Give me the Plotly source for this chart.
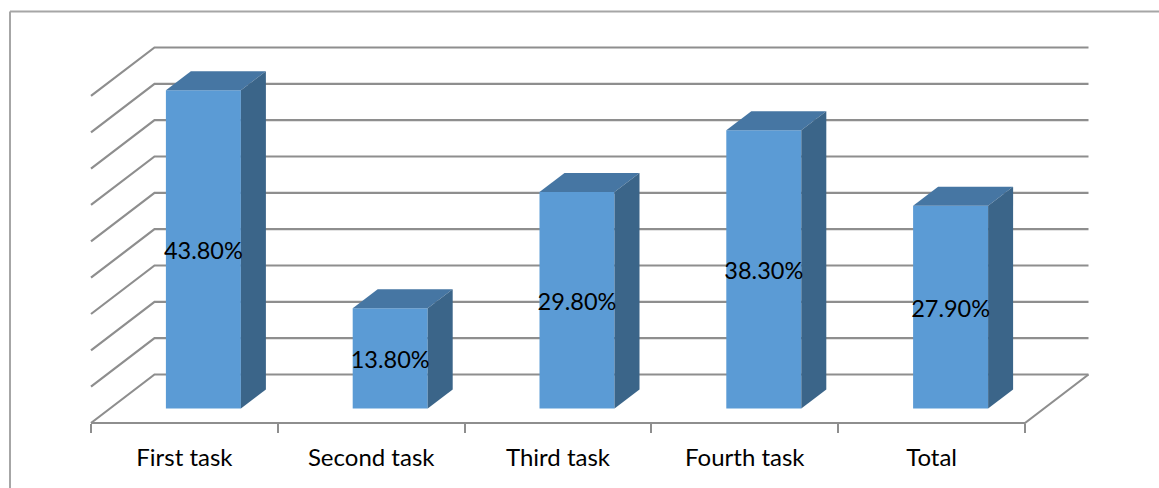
import plotly.graph_objects as go

categories = ["First task", "Second task", "Third task", "Fourth task", "Total"]
values = [43.8, 13.8, 29.8, 38.3, 27.9]
value_labels = ["43.80%", "13.80%", "29.80%", "38.30%", "27.90%"]
wall_levels = [0, 5, 10, 15, 20, 25, 30, 35, 40, 45]

WIDTH, HEIGHT = 1159, 488
AXIS_LEFT, AXIS_RIGHT, AXIS_Y = 91, 1025, 423
UNIT_X = (AXIS_RIGHT - AXIS_LEFT) / len(categories)   # pixels per category
UNIT_Y = 7.267                                        # pixels per percentage point

# Oblique projection offsets, in data units
WALL_DX, WALL_DY = 63.5 / UNIT_X, 48.5 / UNIT_Y       # full floor depth
BAR_DX, BAR_DY = 25 / UNIT_X, 19 / UNIT_Y             # depth of one bar
BAR_SHIFT_X, BAR_BASE = 19 / UNIT_X, 14.5 / UNIT_Y    # bar placement on the floor
BAR_WIDTH = 75 / UNIT_X
LABEL_DROP = 3.5 / UNIT_Y                             # optical centring of the labels

GRID = "#8e8e8e"
FRONT, TOP, SIDE = "#5b9bd5", "#4676a3", "#3b6589"
FONT = "Lato"

fig = go.Figure()

# Back wall and side wall lines, one pair per level
x_min, x_max = -0.5, len(categories) - 0.5
wall_x, wall_y = [], []
for level in wall_levels:
    wall_x += [x_min, x_min + WALL_DX, x_max + WALL_DX, None]
    wall_y += [level, level + WALL_DY, level + WALL_DY, None]
# Right edge of the floor and the front category axis
wall_x += [x_max + WALL_DX, x_max, x_min]
wall_y += [WALL_DY, 0, 0]
fig.add_trace(go.Scatter(x=wall_x, y=wall_y, mode="lines", zorder=-1,
                         line=dict(color=GRID, width=2.2), hoverinfo="skip"))

# Front faces of the columns
centers = [i + BAR_SHIFT_X for i in range(len(categories))]
fig.add_trace(go.Bar(x=centers, y=values, base=BAR_BASE, width=BAR_WIDTH, zorder=0,
                     marker=dict(color=FRONT, line=dict(width=0))))

# Top and side faces of the columns
half = BAR_WIDTH / 2
for c, v in zip(centers, values):
    top = v + BAR_BASE
    fig.add_trace(go.Scatter(
        x=[c - half, c + half, c + half + BAR_DX, c - half + BAR_DX, c - half],
        y=[top, top, top + BAR_DY, top + BAR_DY, top],
        mode="lines", fill="toself", fillcolor=TOP, line=dict(width=0), zorder=1,
        hoverinfo="skip"))
    fig.add_trace(go.Scatter(
        x=[c + half, c + half + BAR_DX, c + half + BAR_DX, c + half, c + half],
        y=[top, top + BAR_DY, BAR_BASE + BAR_DY, BAR_BASE, top],
        mode="lines", fill="toself", fillcolor=SIDE, line=dict(width=0), zorder=1,
        hoverinfo="skip"))

# Percentage labels in the middle of each column
fig.add_trace(go.Scatter(
    x=centers, y=[v / 2 + BAR_BASE - LABEL_DROP for v in values], text=value_labels,
    mode="text", textposition="middle center",
    textfont=dict(family=FONT, size=23.5, color="#000000"), zorder=2, hoverinfo="skip"))

fig.update_layout(
    width=WIDTH, height=HEIGHT, margin=dict(l=0, r=0, t=0, b=0), autosize=False,
    paper_bgcolor="white", plot_bgcolor="rgba(0,0,0,0)", showlegend=False,
    xaxis=dict(
        domain=[0, 1],
        range=[x_min - AXIS_LEFT / UNIT_X, x_min + (WIDTH - AXIS_LEFT) / UNIT_X],
        anchor="free", position=(HEIGHT - AXIS_Y) / HEIGHT,
        tickmode="array", tickvals=list(range(len(categories))), ticktext=categories,
        ticks="", ticklabelstandoff=18, showgrid=False, zeroline=False, showline=False,
        tickfont=dict(family=FONT, size=24, color="#000000"),
        minor=dict(tickmode="array", tickvals=[i - 0.5 for i in range(len(categories) + 1)],
                   ticks="outside", ticklen=9, tickwidth=1.5, tickcolor=GRID, showgrid=False),
    ),
    yaxis=dict(
        domain=[0, 1], range=[-(HEIGHT - AXIS_Y) / UNIT_Y, AXIS_Y / UNIT_Y],
        visible=False,
    ),
    shapes=[
        dict(type="line", xref="paper", yref="paper", x0=10 / WIDTH, x1=10 / WIDTH,
             y0=0, y1=1 - 11.5 / HEIGHT, line=dict(color="#a6a6a6", width=2)),
        dict(type="line", xref="paper", yref="paper", x0=10 / WIDTH, x1=1,
             y0=1 - 11.5 / HEIGHT, y1=1 - 11.5 / HEIGHT, line=dict(color="#a6a6a6", width=2)),
    ],
)

fig.write_html("out.html", config=dict(displayModeBar=False))
